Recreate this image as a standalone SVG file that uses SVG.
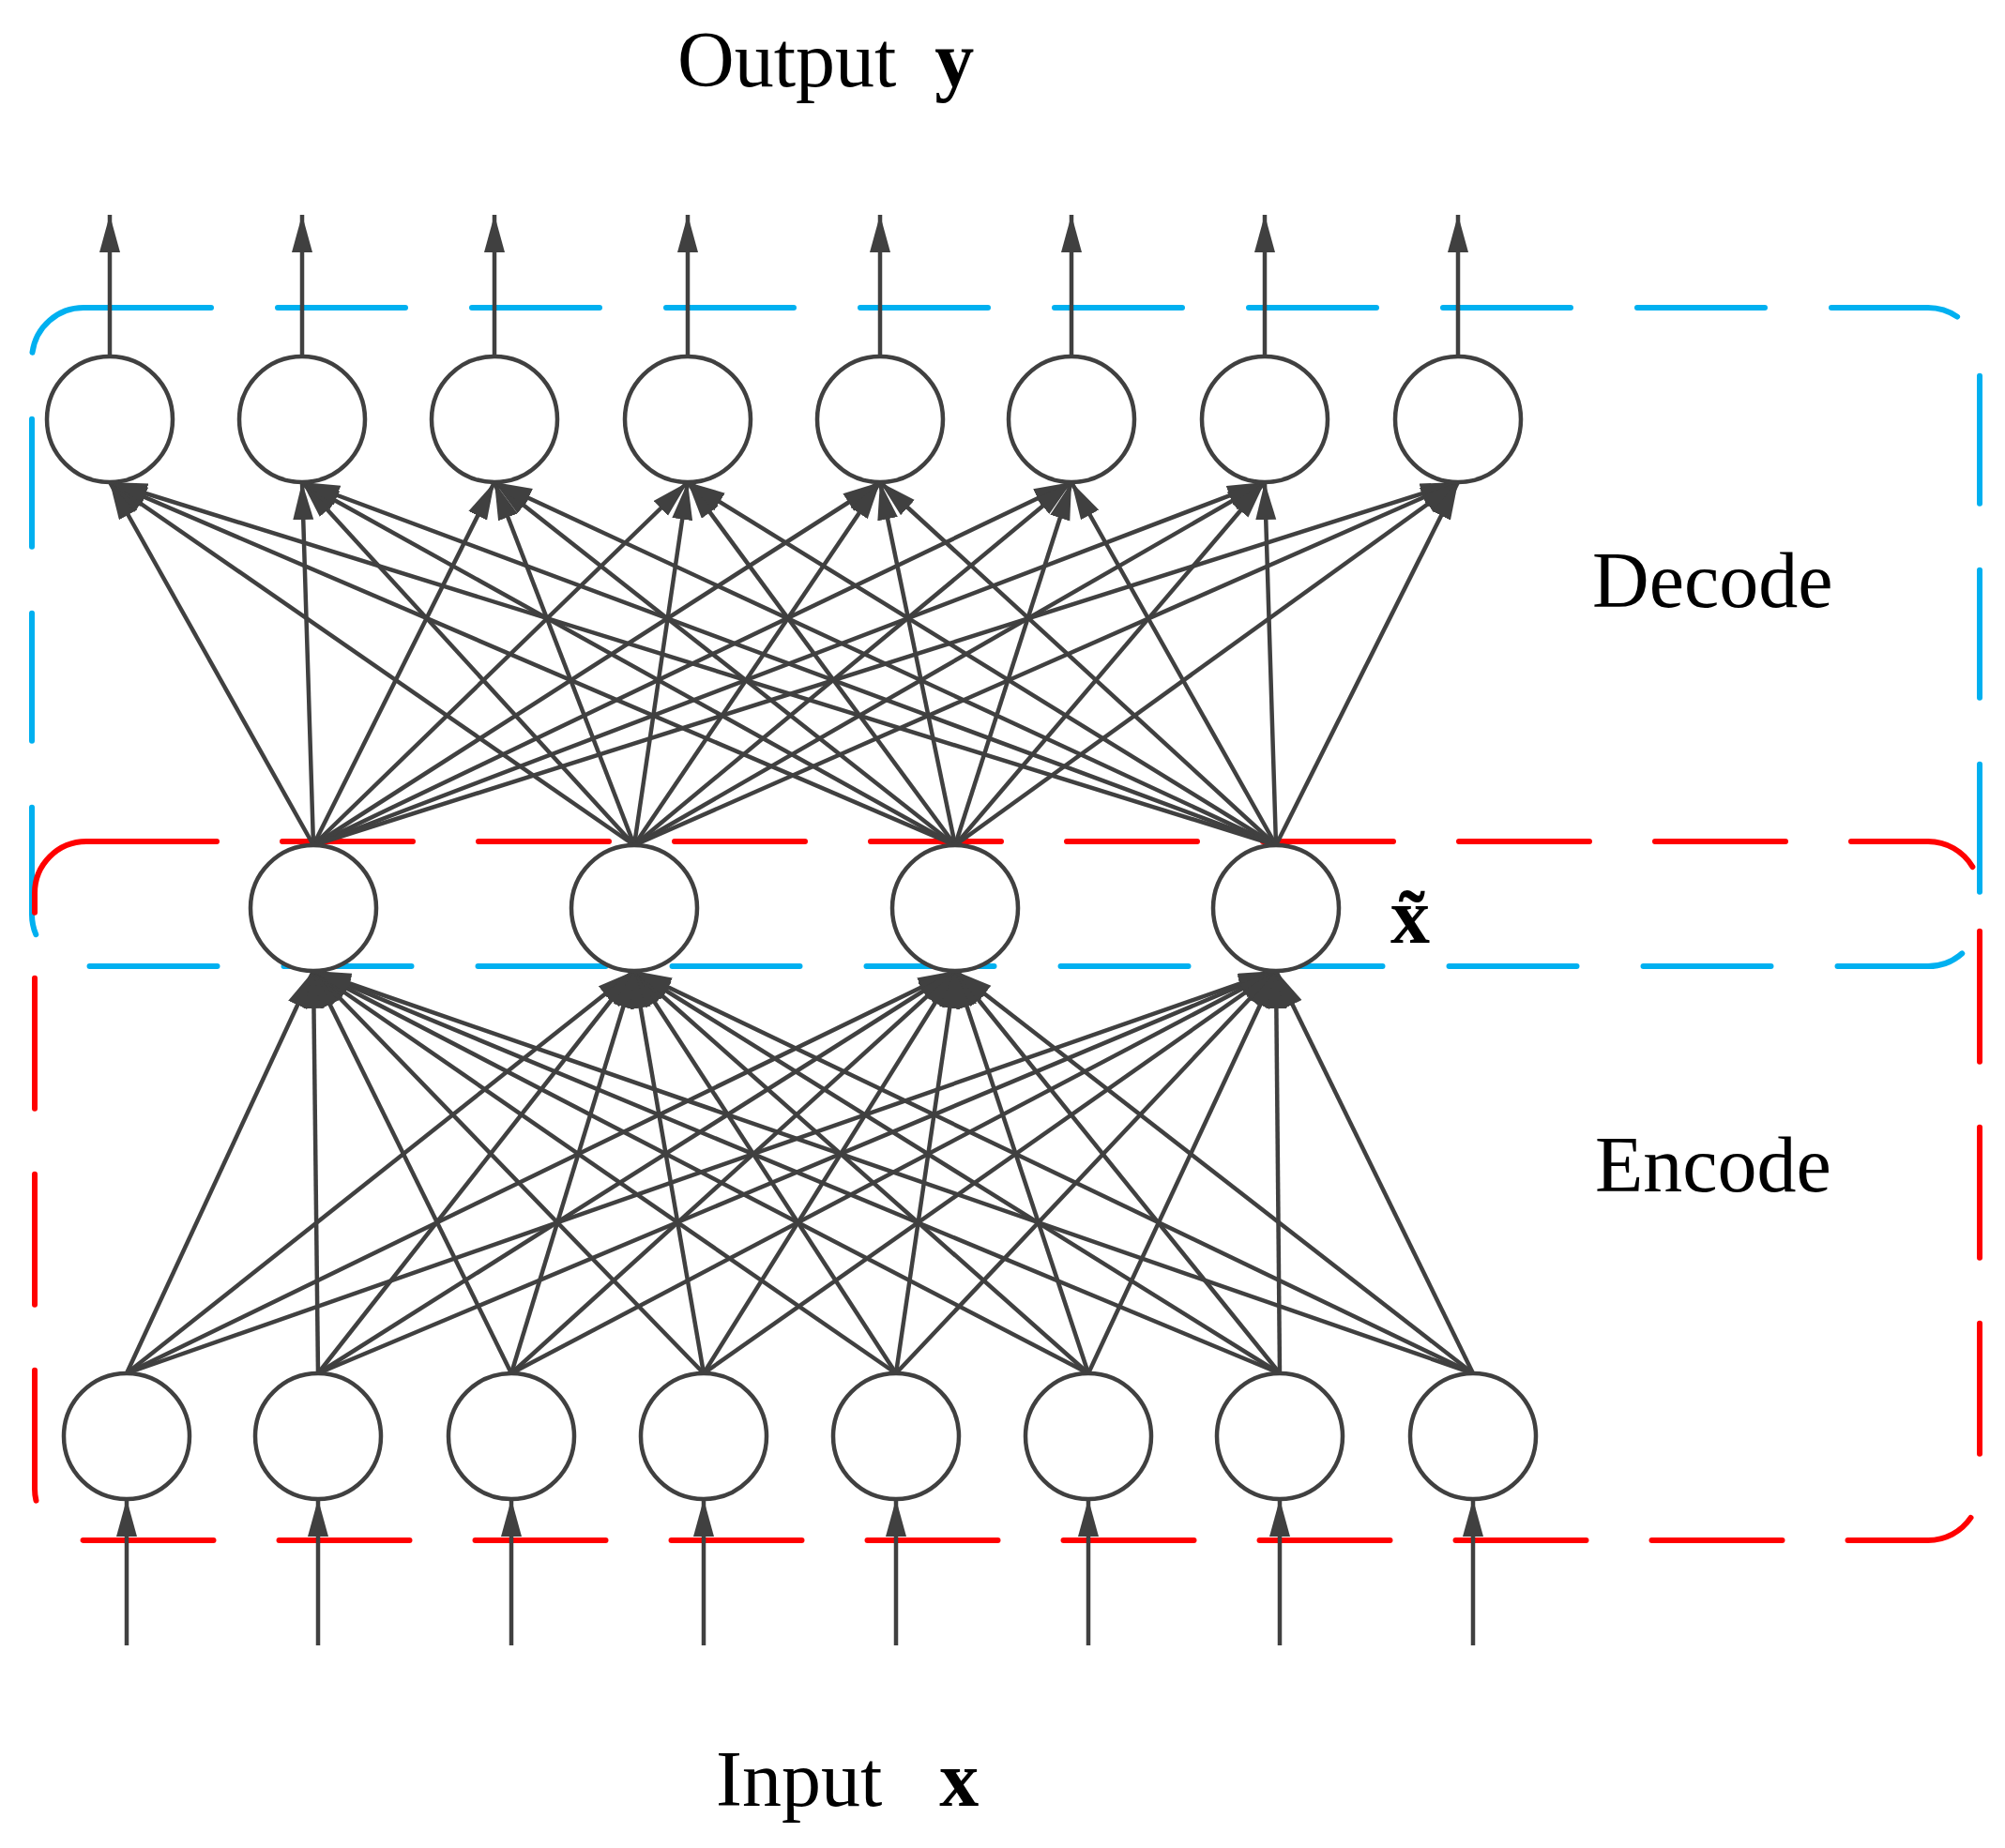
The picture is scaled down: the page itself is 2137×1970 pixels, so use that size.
<svg xmlns="http://www.w3.org/2000/svg" width="2137" height="1970" viewBox="0 0 2137 1970">
<style>
.n{fill:#fff;stroke:#404040;stroke-width:4.5}
.c line{stroke:#404040;stroke-width:4.5;marker-end:url(#a)}
.t{font-family:"Liberation Serif",serif;font-size:84px;fill:#000}
.b{font-weight:bold}
</style>
<defs><marker id="a" markerUnits="userSpaceOnUse" markerWidth="42" markerHeight="24" refX="40" refY="11" orient="auto"><path d="M0,0L40,11L0,22z" fill="#404040"/></marker></defs>
<rect x="34" y="328" width="2076" height="702" rx="55" fill="none" stroke="#00b0f0" stroke-width="6" stroke-dasharray="136 71" stroke-linecap="round"/>
<rect x="37" y="897" width="2073" height="745" rx="55" fill="none" stroke="#ff0000" stroke-width="6" stroke-dasharray="139 70" stroke-linecap="round"/>
<g class="c" id="connectors">
<line x1="117" y1="380" x2="117" y2="229"/><line x1="322" y1="380" x2="322" y2="229"/><line x1="527" y1="380" x2="527" y2="229"/><line x1="733" y1="380" x2="733" y2="229"/><line x1="938" y1="380" x2="938" y2="229"/><line x1="1142" y1="380" x2="1142" y2="229"/><line x1="1348" y1="380" x2="1348" y2="229"/><line x1="1554" y1="380" x2="1554" y2="229"/>
<line x1="135" y1="1754" x2="135" y2="1598"/><line x1="339" y1="1754" x2="339" y2="1598"/><line x1="545" y1="1754" x2="545" y2="1598"/><line x1="750" y1="1754" x2="750" y2="1598"/><line x1="955" y1="1754" x2="955" y2="1598"/><line x1="1160" y1="1754" x2="1160" y2="1598"/><line x1="1364" y1="1754" x2="1364" y2="1598"/><line x1="1570" y1="1754" x2="1570" y2="1598"/>
<line x1="334" y1="901" x2="117" y2="514"/><line x1="334" y1="901" x2="322" y2="514"/><line x1="334" y1="901" x2="527" y2="514"/><line x1="334" y1="901" x2="733" y2="514"/><line x1="334" y1="901" x2="938" y2="514"/><line x1="334" y1="901" x2="1142" y2="514"/><line x1="334" y1="901" x2="1348" y2="514"/><line x1="334" y1="901" x2="1554" y2="514"/>
<line x1="676" y1="901" x2="117" y2="514"/><line x1="676" y1="901" x2="322" y2="514"/><line x1="676" y1="901" x2="527" y2="514"/><line x1="676" y1="901" x2="733" y2="514"/><line x1="676" y1="901" x2="938" y2="514"/><line x1="676" y1="901" x2="1142" y2="514"/><line x1="676" y1="901" x2="1348" y2="514"/><line x1="676" y1="901" x2="1554" y2="514"/>
<line x1="1018" y1="901" x2="117" y2="514"/><line x1="1018" y1="901" x2="322" y2="514"/><line x1="1018" y1="901" x2="527" y2="514"/><line x1="1018" y1="901" x2="733" y2="514"/><line x1="1018" y1="901" x2="938" y2="514"/><line x1="1018" y1="901" x2="1142" y2="514"/><line x1="1018" y1="901" x2="1348" y2="514"/><line x1="1018" y1="901" x2="1554" y2="514"/>
<line x1="1360" y1="901" x2="117" y2="514"/><line x1="1360" y1="901" x2="322" y2="514"/><line x1="1360" y1="901" x2="527" y2="514"/><line x1="1360" y1="901" x2="733" y2="514"/><line x1="1360" y1="901" x2="938" y2="514"/><line x1="1360" y1="901" x2="1142" y2="514"/><line x1="1360" y1="901" x2="1348" y2="514"/><line x1="1360" y1="901" x2="1554" y2="514"/>
<line x1="135" y1="1464" x2="334" y2="1035"/><line x1="135" y1="1464" x2="676" y2="1035"/><line x1="135" y1="1464" x2="1018" y2="1035"/><line x1="135" y1="1464" x2="1360" y2="1035"/>
<line x1="339" y1="1464" x2="334" y2="1035"/><line x1="339" y1="1464" x2="676" y2="1035"/><line x1="339" y1="1464" x2="1018" y2="1035"/><line x1="339" y1="1464" x2="1360" y2="1035"/>
<line x1="545" y1="1464" x2="334" y2="1035"/><line x1="545" y1="1464" x2="676" y2="1035"/><line x1="545" y1="1464" x2="1018" y2="1035"/><line x1="545" y1="1464" x2="1360" y2="1035"/>
<line x1="750" y1="1464" x2="334" y2="1035"/><line x1="750" y1="1464" x2="676" y2="1035"/><line x1="750" y1="1464" x2="1018" y2="1035"/><line x1="750" y1="1464" x2="1360" y2="1035"/>
<line x1="955" y1="1464" x2="334" y2="1035"/><line x1="955" y1="1464" x2="676" y2="1035"/><line x1="955" y1="1464" x2="1018" y2="1035"/><line x1="955" y1="1464" x2="1360" y2="1035"/>
<line x1="1160" y1="1464" x2="334" y2="1035"/><line x1="1160" y1="1464" x2="676" y2="1035"/><line x1="1160" y1="1464" x2="1018" y2="1035"/><line x1="1160" y1="1464" x2="1360" y2="1035"/>
<line x1="1364" y1="1464" x2="334" y2="1035"/><line x1="1364" y1="1464" x2="676" y2="1035"/><line x1="1364" y1="1464" x2="1018" y2="1035"/><line x1="1364" y1="1464" x2="1360" y2="1035"/>
<line x1="1570" y1="1464" x2="334" y2="1035"/><line x1="1570" y1="1464" x2="676" y2="1035"/><line x1="1570" y1="1464" x2="1018" y2="1035"/><line x1="1570" y1="1464" x2="1360" y2="1035"/>
</g>
<g id="o1"><circle class="n" cx="117" cy="447" r="67"/></g>
<g id="o2"><circle class="n" cx="322" cy="447" r="67"/></g>
<g id="o3"><circle class="n" cx="527" cy="447" r="67"/></g>
<g id="o4"><circle class="n" cx="733" cy="447" r="67"/></g>
<g id="o5"><circle class="n" cx="938" cy="447" r="67"/></g>
<g id="o6"><circle class="n" cx="1142" cy="447" r="67"/></g>
<g id="o7"><circle class="n" cx="1348" cy="447" r="67"/></g>
<g id="o8"><circle class="n" cx="1554" cy="447" r="67"/></g>
<g id="h1"><circle class="n" cx="334" cy="968" r="67"/></g>
<g id="h2"><circle class="n" cx="676" cy="968" r="67"/></g>
<g id="h3"><circle class="n" cx="1018" cy="968" r="67"/></g>
<g id="h4"><circle class="n" cx="1360" cy="968" r="67"/></g>
<g id="i1"><circle class="n" cx="135" cy="1531" r="67"/></g>
<g id="i2"><circle class="n" cx="339" cy="1531" r="67"/></g>
<g id="i3"><circle class="n" cx="545" cy="1531" r="67"/></g>
<g id="i4"><circle class="n" cx="750" cy="1531" r="67"/></g>
<g id="i5"><circle class="n" cx="955" cy="1531" r="67"/></g>
<g id="i6"><circle class="n" cx="1160" cy="1531" r="67"/></g>
<g id="i7"><circle class="n" cx="1364" cy="1531" r="67"/></g>
<g id="i8"><circle class="n" cx="1570" cy="1531" r="67"/></g>
<text class="t" x="722" y="92">Output <tspan class="b" dx="20">y</tspan></text>
<text class="t" x="1697" y="647">Decode</text>
<text class="t" x="1700" y="1270">Encode</text>
<text class="t" x="763" y="1925">Input <tspan class="b" dx="40">x</tspan></text>
<text class="t b" x="1482" y="1005">x̃</text>
</svg>
